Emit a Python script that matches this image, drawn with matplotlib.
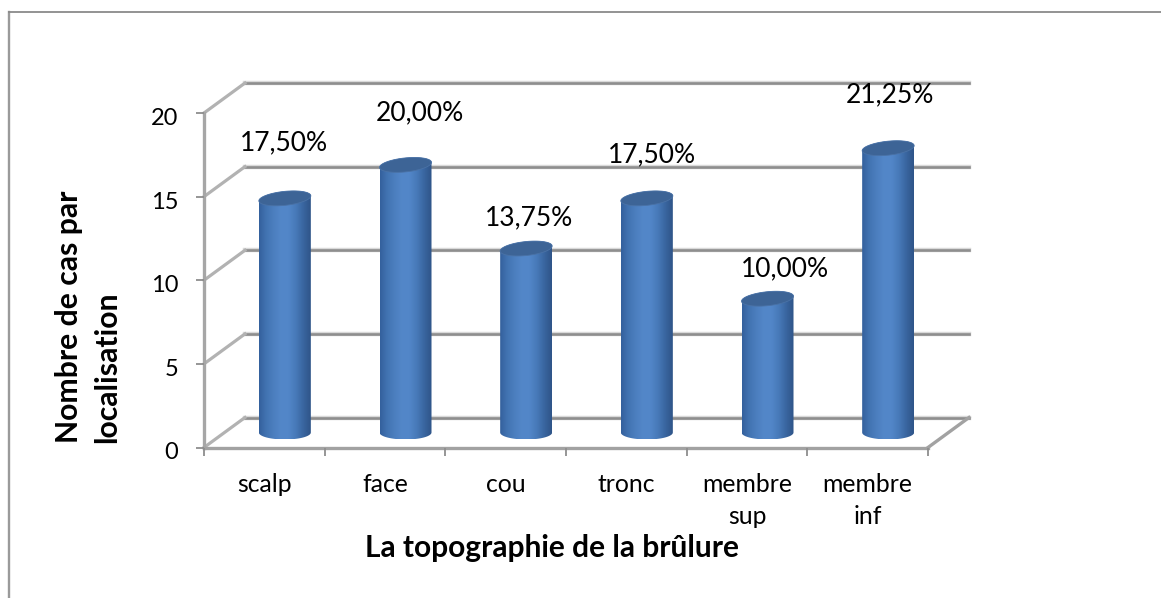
import numpy as np
import matplotlib
matplotlib.use("Agg")
import matplotlib.pyplot as plt
from matplotlib.colors import LinearSegmentedColormap
from matplotlib.patches import Polygon
from matplotlib.transforms import ScaledTranslation

categories = ["scalp", "face", "cou", "tronc", "membre\nsup", "membre\ninf"]
cases = [14, 16, 11, 14, 8, 17]
percent_labels = ["17,50%", "20,00%", "13,75%", "17,50%", "10,00%", "21,25%"]
y_ticks = [0, 5, 10, 15, 20]

W, H = 1161, 598
plt.rcParams["font.family"] = ["Lato", "DejaVu Sans"]

fig = plt.figure(figsize=(W / 100, H / 100), dpi=100, facecolor="white")
# front plane of the fake 3D box, in pixels
left, right, top, bottom = 204, 928, 113, 447.5
ax = fig.add_axes([left / W, 1 - bottom / H, (right - left) / W, (bottom - top) / H])
ax.set_xlim(0, len(categories))
ax.set_ylim(0, 20)
for s in ax.spines.values():
    s.set_visible(False)
ax.patch.set_alpha(0)

px_x = (right - left) / len(categories)
px_y = (bottom - top) / 20
depth_x = 41 / px_x
depth_y = 30 / px_y

# walls
for v in y_ticks:
    ax.plot([depth_x, 6 + depth_x], [v + depth_y, v + depth_y], color="#d9d9d9", lw=3.2, clip_on=False, zorder=1)
    ax.plot([depth_x, 6 + depth_x], [v + depth_y, v + depth_y], color="#8e8e8e", lw=1.9, clip_on=False, zorder=1.1)
    ax.plot([0, depth_x], [v, v + depth_y], color="#b2b2b2", lw=2.3, clip_on=False, zorder=1.2)
ax.plot([0, 0], [0, 20], color="#a6a6a6", lw=2.4, clip_on=False, zorder=1.3)
ax.plot([0, 6], [0, 0], color="#a2a2a2", lw=2.4, clip_on=False, zorder=1.3)
ax.plot([6, 6 + depth_x], [0, depth_y], color="#a2a2a2", lw=2.4, clip_on=False, zorder=1.3)

# cylinders
shade = LinearSegmentedColormap.from_list(
    "cyl", ["#34609c", "#4274b2", "#4c7fbf", "#5387c9", "#5286c8", "#4779b8", "#39659f", "#2f5488"])
gradient = np.linspace(0, 1, 256).reshape(1, -1)
half = 26 / px_x
rx = np.linspace(0, 2 * np.pi, 120)
ell_b = 7 / px_y
tilt = 2.5 / px_y

for i, v in enumerate(cases):
    cx = i + 0.5 + depth_x / 2
    base = depth_y / 2
    tip = base + v
    xs = cx + half * np.cos(rx)
    low = np.linspace(np.pi, 2 * np.pi, 60)
    up = np.linspace(0, np.pi, 60)
    outline = np.column_stack([
        np.r_[cx + half * np.cos(low), cx + half * np.cos(up)],
        np.r_[base + ell_b * np.sin(low), tip + ell_b * np.sin(up) + tilt * np.cos(up)],
    ])
    body = Polygon(outline, closed=True, transform=ax.transData, facecolor="none", edgecolor="none")
    ax.add_patch(body)
    im = ax.imshow(gradient, cmap=shade, aspect="auto", zorder=3, interpolation="bilinear",
                   extent=[cx - half, cx + half, base - ell_b, tip + ell_b + tilt])
    im.set_clip_path(body)
    cap = np.column_stack([xs, tip + ell_b * np.sin(rx) + tilt * np.cos(rx)])
    ax.add_patch(Polygon(cap, closed=True, facecolor="#3d6496", edgecolor="#4a72a6", lw=0.6, zorder=4))

ax.set_xlim(0, len(categories))
ax.set_ylim(0, 20)

# percent labels were placed by hand in the original
label_shift = [(-1, 56), (14, 52), (3, 31), (5, 44), (17, 30), (2, 53)]
for i, (v, txt) in enumerate(zip(cases, percent_labels)):
    cx = i + 0.5 + depth_x / 2
    dx, dy = label_shift[i]
    ax.annotate(txt, (cx, depth_y / 2 + v), xytext=(dx * 0.72, dy * 0.72), textcoords="offset points",
                ha="center", va="center", fontsize=19, color="black", zorder=6, annotation_clip=False)

ax.set_yticks(y_ticks)
ax.set_xticks(range(len(categories) + 1))
ax.set_xticklabels([])
ax.set_xticks(np.arange(len(categories)) + 0.5, minor=True)
ax.set_xticklabels(categories, minor=True, fontsize=17.8, linespacing=1.48, va="top")
ax.tick_params(axis="both", which="major", color="#8e8e8e", length=5.5, width=1.3)
ax.tick_params(axis="x", which="minor", length=0, pad=18)
ax.tick_params(axis="y", labelsize=17, pad=13, labelcolor="black")
for lab in ax.get_yticklabels():
    lab.set_transform(lab.get_transform() + ScaledTranslation(0, -2.5 / 72, fig.dpi_scale_trans))

# outer chart frame, cut by the picture edges
fig.add_artist(plt.Line2D([9 / W, 9 / W], [0, 1 - 12 / H], color="#9a9a9a", lw=1.7))
fig.add_artist(plt.Line2D([9 / W, 1], [1 - 12 / H, 1 - 12 / H], color="#8a8a8a", lw=1.3))

fig.text(552 / W, 1 - 548 / H, "La topographie de la brûlure", ha="center", va="center",
         fontsize=21.5, fontweight="bold")
fig.text(88 / W, 1 - 443 / H, "Nombre de cas par\nlocalisation", rotation=90, ha="center", va="bottom",
         multialignment="left", fontsize=21.7, fontweight="bold", linespacing=1.44)

fig.savefig("out.png", dpi=100)
